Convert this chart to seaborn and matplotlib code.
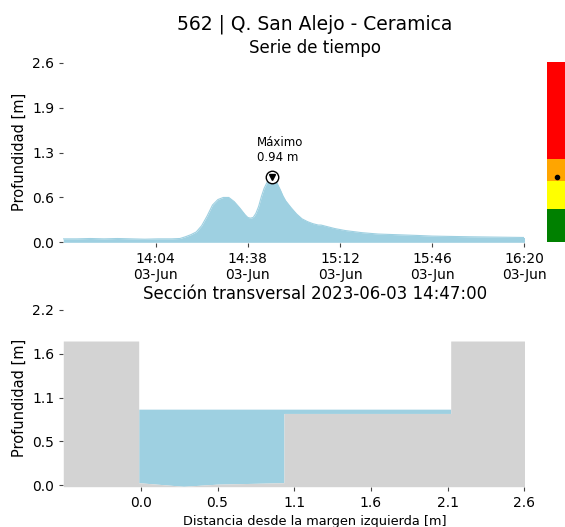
import numpy as np
import pandas as pd
import matplotlib
matplotlib.use('Agg')
import matplotlib.pyplot as plt
import matplotlib.dates as mdates
import seaborn as sns

# Datos
fecha = '2023-06-03'
horas = ['13:30', '13:35', '13:40', '13:45', '13:50', '13:55', '14:00', '14:05', '14:10', '14:13',
         '14:15', '14:17', '14:19', '14:21', '14:23', '14:25', '14:27', '14:29', '14:31', '14:33',
         '14:35', '14:37', '14:38', '14:39', '14:40', '14:41', '14:42', '14:43', '14:44', '14:45',
         '14:46', '14:47', '14:48', '14:49', '14:50', '14:51', '14:52', '14:54', '14:56', '14:58',
         '15:00', '15:02', '15:04', '15:05', '15:07', '15:10', '15:14', '15:20', '15:26', '15:33',
         '15:40', '15:46', '15:53', '16:00', '16:10', '16:20']
profundidad = [0.05, 0.05, 0.055, 0.05, 0.055, 0.05, 0.045, 0.05, 0.05, 0.055,
               0.08, 0.11, 0.15, 0.24, 0.38, 0.54, 0.62, 0.65, 0.65, 0.59,
               0.50, 0.40, 0.36, 0.35, 0.36, 0.42, 0.52, 0.66, 0.78, 0.86,
               0.91, 0.94, 0.92, 0.84, 0.76, 0.67, 0.60, 0.50, 0.41, 0.34,
               0.30, 0.27, 0.25, 0.25, 0.23, 0.20, 0.17, 0.14, 0.12, 0.11,
               0.10, 0.09, 0.085, 0.08, 0.075, 0.07]
ticks_tiempo = ['14:04', '14:38', '15:12', '15:46', '16:20']

# Umbrales de alerta (verde, amarillo, naranja, rojo)
umbrales = [0.0, 0.48, 0.89, 1.20, 2.62]
colores_alerta = ['green', 'yellow', 'orange', 'red']

# Seccion transversal
dist = [-0.525, -0.014, -0.014, 0.29, 0.52, 0.97, 0.97, 2.10, 2.10, 2.6]
fondo = [1.81, 1.81, 0.03, -0.015, 0.012, 0.03, 0.90, 0.90, 1.81, 1.81]
nivel_agua = 0.954
ticks_dist = ['0.0', '0.5', '1.1', '1.6', '2.1', '2.6']
ticks_prof_ts = ['0.0', '0.6', '1.3', '1.9', '2.6']
ticks_prof_sec = ['0.0', '0.5', '1.1', '1.6', '2.2']

azul = '#9ed0e1'
gris = 'lightgray'

sns.set_style('ticks')
plt.rcParams['font.family'] = ['DejaVu Sans']
plt.rcParams['text.color'] = 'black'
plt.rcParams['axes.labelcolor'] = 'black'
plt.rcParams['xtick.labelcolor'] = 'black'
plt.rcParams['ytick.labelcolor'] = 'black'

tiempo = pd.to_datetime([f'{fecha} {h}' for h in horas])
df = pd.DataFrame({'tiempo': tiempo, 'profundidad': profundidad})

fig = plt.figure(figsize=(5.65, 5.27), dpi=100)
ax1 = fig.add_axes([0.112, 0.5389, 0.8163, 0.3444])
ax_c = fig.add_axes([0.9687, 0.5389, 0.0354, 0.3444])
ax2 = fig.add_axes([0.112, 0.0765, 0.8163, 0.3353])

# los titulos van algo a la derecha del centro de los ejes
xc = 0.5457
fig.suptitle('562 | Q. San Alejo - Ceramica', fontsize=13.5, x=0.5575, y=0.972)

# --- Serie de tiempo ---
ax1.fill_between(df['tiempo'], 0, df['profundidad'], color=azul, linewidth=0)
sns.lineplot(data=df, x='tiempo', y='profundidad', ax=ax1, color=azul, linewidth=0.8)
imax = df['profundidad'].idxmax()
t_max = df.loc[imax, 'tiempo']
p_max = df.loc[imax, 'profundidad']
ax1.plot(t_max, p_max, 'o', ms=9, mfc='white', mec='black', mew=1.0)
ax1.plot(t_max, p_max, 'v', ms=4.5, color='black')
ax1.annotate(f'Máximo\n{p_max:.2f} m', xy=(t_max, p_max), xytext=(-11, 10),
             textcoords='offset points', ha='left', va='bottom', fontsize=8.5)
ax1.set_xlim(tiempo[0], tiempo[-1])
ax1.set_ylim(-0.01, 2.62)
ax1.set_yticks(np.linspace(0, 2.6, 5))
ax1.set_yticklabels(ticks_prof_ts)
ax1.set_xticks(pd.to_datetime([f'{fecha} {h}' for h in ticks_tiempo]))
ax1.xaxis.set_major_formatter(mdates.DateFormatter('%H:%M\n%d-%b'))
ax1.set_xlabel('')
ax1.set_ylabel('Profundidad [m]', fontsize=10.5)
ax1.set_title('Serie de tiempo', fontsize=12, x=xc)

# --- Barra de alerta ---
for i, c in enumerate(colores_alerta):
    ax_c.bar(0, umbrales[i + 1] - umbrales[i], bottom=umbrales[i], width=1, color=c, linewidth=0)
ax_c.plot(0, p_max, 'o', ms=3, color='black')
ax_c.set_xlim(-0.5, 0.5)
ax_c.set_ylim(ax1.get_ylim())
ax_c.axis('off')

# --- Seccion transversal ---
dist = np.array(dist)
fondo = np.array(fondo)
y_min = -0.02
ax2.fill_between(dist, fondo, np.maximum(fondo, nivel_agua), color=azul, linewidth=0)
ax2.fill_between(dist, y_min, fondo, color=gris, linewidth=0)
ax2.set_xlim(dist[0], dist[-1])
ax2.set_ylim(y_min, 2.2)
ax2.set_xticks(np.linspace(0, 2.6, 6))
ax2.set_xticklabels(ticks_dist)
ax2.set_yticks(np.linspace(0, 2.2, 5))
ax2.set_yticklabels(ticks_prof_sec)
ax2.set_xlabel('Distancia desde la margen izquierda [m]', fontsize=9.3, x=xc)
ax2.set_ylabel('Profundidad [m]', fontsize=10.5)
ax2.set_title(f'Sección transversal {fecha} 14:47:00', fontsize=12, x=xc, pad=8)

for ax in (ax1, ax2):
    sns.despine(ax=ax, left=True, bottom=True)
    ax.tick_params(labelsize=10, length=3, width=0.8, color='#444444')

fig.savefig('out.png', dpi=100)
